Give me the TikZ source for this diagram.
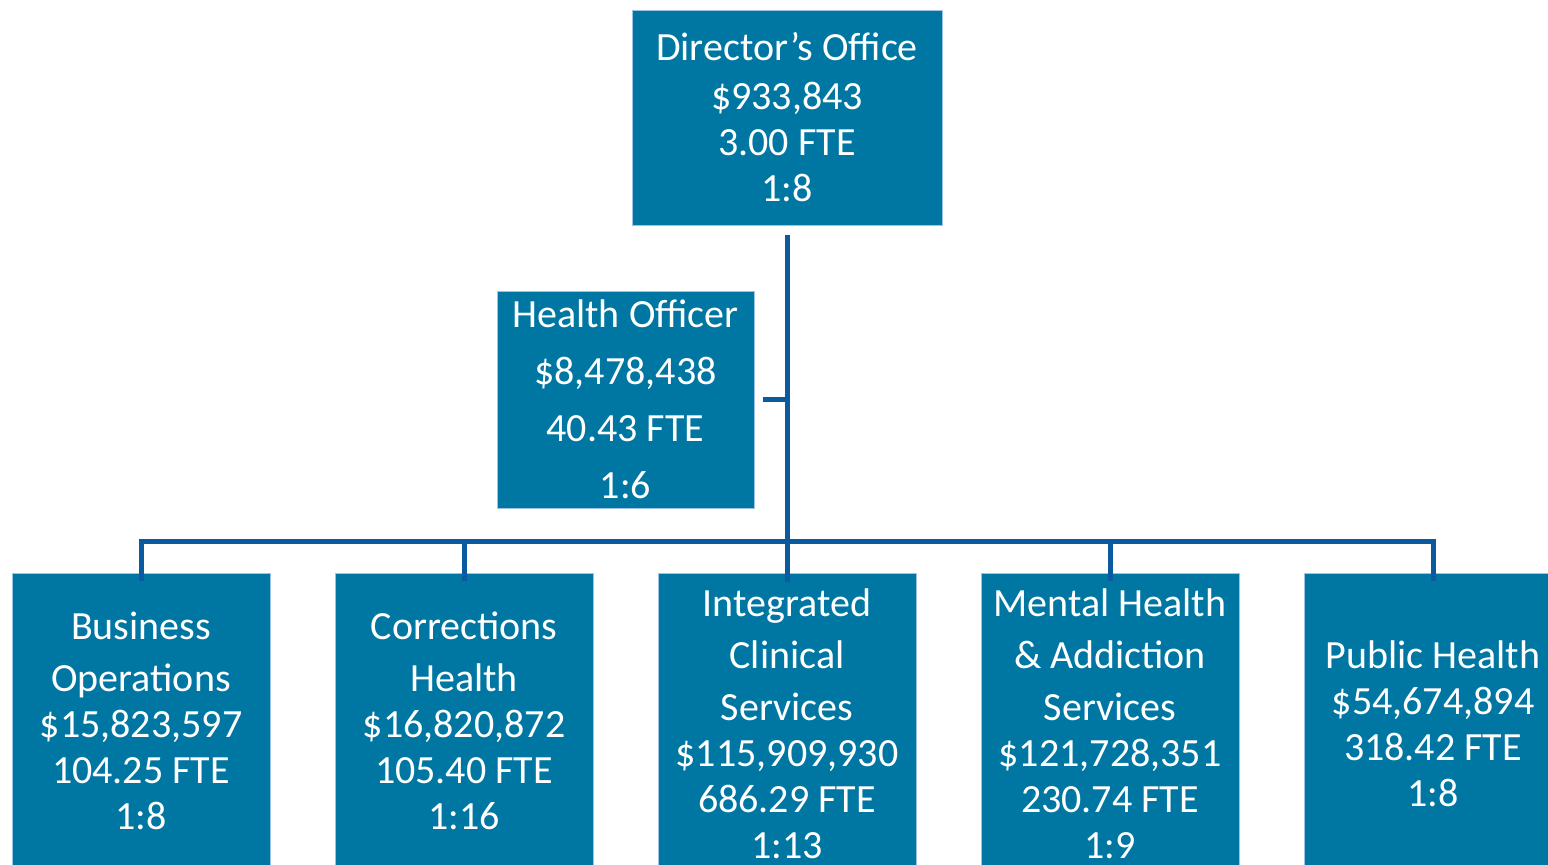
\documentclass[tikz,border=0pt]{standalone}
\usepackage{fontspec}
\setmainfont{Carlito}
\definecolor{boxfill}{RGB}{0,119,163}
\definecolor{boxedge}{RGB}{157,195,230}
\definecolor{conncol}{RGB}{11,90,160}
\begin{document}
\begin{tikzpicture}[x=1pt,y=-1pt,
  orgbox/.style={rectangle, fill=boxfill, draw=boxedge, line width=0.8pt, text=white,
    align=center, inner sep=0pt, font=\fontsize{40}{46}\selectfont},
  conn/.style={draw=conncol, line width=5pt}]
\useasboundingbox (0,0) rectangle (1548,865);
\clip (0,0) rectangle (1548,865);
\node[orgbox, minimum width=310, minimum height=215] (dir) at (787,117.5)
  {Director’s Office\\[3pt]\$933,843\\3.00 FTE\\1:8};
\node[orgbox, minimum width=257, minimum height=217, font=\fontsize{40}{57}\selectfont] (ho) at (625.5,399.5)
  {Health Officer\\\$8,478,438\\40.43 FTE\\1:6};
\node[orgbox, minimum width=258, minimum height=295] (b1) at (141,720.5)
  {Business\\[6pt]Operations\\\$15,823,597\\104.25 FTE\\1:8};
\node[orgbox, minimum width=258, minimum height=295] (b2) at (464,720.5)
  {Corrections\\[6pt]Health\\\$16,820,872\\105.40 FTE\\1:16};
\node[orgbox, minimum width=258, minimum height=301] (b3) at (787,723.5)
  {Integrated\\[6pt]Clinical\\[6pt]Services\\\$115,909,930\\686.29 FTE\\1:13};
\node[orgbox, minimum width=258, minimum height=301] (b4) at (1110,723.5)
  {Mental Health\\[6pt]\& Addiction\\[6pt]Services\\\$121,728,351\\230.74 FTE\\1:9};
\node[orgbox, minimum width=258, minimum height=301] (b5) at (1433,723.5)
  {Public Health\\\$54,674,894\\318.42 FTE\\1:8};
\coordinate (bus) at (787,541);
\draw[conn] ([yshift=-10pt]dir.south) -- ([yshift=-9pt]b3.north);
\draw[conn] ([yshift=-8pt]b1.north) |- (bus) -| ([yshift=-8pt]b5.north);
\draw[conn] ([yshift=-8pt]b2.north) -- (b2.north |- bus);
\draw[conn] ([yshift=-8pt]b4.north) -- (b4.north |- bus);
\draw[conn] ([xshift=9pt]ho.east) -- (ho.east -| bus);
\end{tikzpicture}
\end{document}
